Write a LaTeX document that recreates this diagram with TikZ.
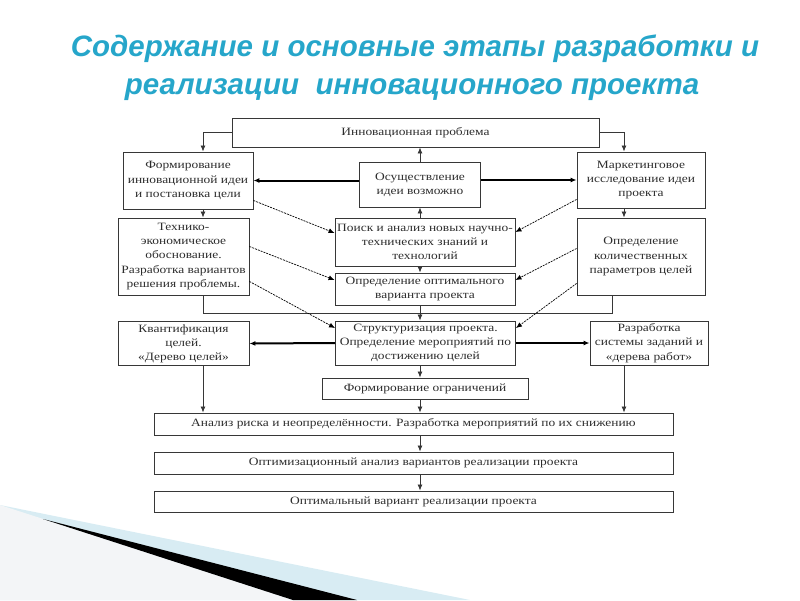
\documentclass[tikz,border=0pt]{standalone}
\usepackage{fontspec}
\setmainfont{Liberation Serif}
\newfontfamily\boxfont[FakeStretch=1.2]{Liberation Serif}
\newfontfamily\titlefont{Liberation Sans}
\usetikzlibrary{arrows.meta,calc,positioning}
\definecolor{TitleBlue}{RGB}{38,166,202}
\definecolor{SwooshBlue}{RGB}{216,236,243}
\definecolor{SwooshGrey}{RGB}{243,245,247}
\definecolor{BoxLine}{RGB}{55,55,55}
\definecolor{BoxText}{RGB}{45,45,45}

\begin{document}
\begin{tikzpicture}[x=1pt,y=-1pt,>={Latex[length=6pt,width=5pt]}]
        \tikzset{stage/.style={draw=BoxLine,line width=0.9pt,inner sep=1pt,align=center,text=BoxText,font=\boxfont\fontsize{11.2}{14.2}\selectfont},
          link/.style={->,draw=BoxLine,line width=0.8pt},
          thick link/.style={->,draw=black,line width=2pt},
          hint/.style={->,draw=black,line width=0.7pt,dash pattern=on 2pt off 1pt}}
        \useasboundingbox (0,0) rectangle (800,600);
        % corner swoosh
        \fill[SwooshBlue] (0,505) -- (470,600) -- (0,600) -- cycle;
        \fill[SwooshGrey] (0,505) -- (293,600) -- (0,600) -- cycle;
        \fill[black] (43,519) -- (357,600) -- (293,600) -- cycle;
        % title
        \node[text=TitleBlue,font=\titlefont\bfseries\itshape\fontsize{29.5}{34}\selectfont] (title1) at (415,49) {Содержание и основные этапы разработки и};
        \node[text=TitleBlue,font=\titlefont\bfseries\itshape\fontsize{29.5}{34}\selectfont] (title2) at (412,90) {реализации\ \ инновационного проекта};
        % boxes
        \node[stage,minimum width=367pt,minimum height=29pt] (prob) at (415.5,132.5) {Инновационная проблема};
        \node[stage,minimum width=130pt,minimum height=57pt] (form) at (188,180.5) {Формирование\\инновационной идеи\\и постановка цели};
        \node[stage,minimum width=121pt,minimum height=45pt] (osush) at (420,184.5) {Осуществление\\идеи возможно};
        \node[stage,minimum width=128pt,minimum height=56pt] (mark) at (641,180) {Маркетинговое\\исследование идеи\\проекта};
        \node[stage,minimum width=131pt,minimum height=77pt] (tech) at (183.5,256.5) {Технико-\\экономическое\\обоснование.\\Разработка вариантов\\решения проблемы.};
        \node[stage,minimum width=180pt,minimum height=48pt] (poisk) at (425,242) {Поиск и анализ новых научно-\\технических знаний и\\технологий};
        \node[stage,minimum width=128pt,minimum height=77pt] (oprkol) at (641,256.5) {Определение\\количественных\\параметров целей};
        \node[stage,minimum width=180pt,minimum height=32pt] (opropt) at (425,289) {Определение оптимального\\варианта проекта};
        \node[stage,minimum width=131pt,minimum height=44pt] (kvant) at (183.5,343.5) {Квантификация\\целей.\\«Дерево целей»};
        \node[stage,minimum width=180pt,minimum height=44pt] (struct) at (425.5,343) {Структуризация проекта.\\Определение мероприятий по\\достижению целей};
        \node[stage,minimum width=118pt,minimum height=44pt] (razr) at (649,343) {Разработка\\системы заданий и\\«дерева работ»};
        \node[stage,minimum width=206pt,minimum height=21pt] (ogr) at (425,388.5) {Формирование ограничений};
        \node[stage,minimum width=519pt,minimum height=22pt] (risk) at (413.5,424) {Анализ риска и неопределённости. Разработка мероприятий по их снижению};
        \node[stage,minimum width=519pt,minimum height=22pt] (opt) at (413.5,463) {Оптимизационный анализ вариантов реализации проекта};
        \node[stage,minimum width=519pt,minimum height=21pt] (final) at (413.5,501.5) {Оптимальный вариант реализации проекта};
        % side columns and joining line
        \coordinate (lcol) at (203,0);
        \coordinate (rcol) at (624,0);
        \coordinate (jleft) at (203,313);
        \coordinate (jright) at (612,313);
        % connectors
        \draw[link] (prob.west) -| (form.north -| lcol);
        \draw[link] (prob.east) -| (mark.north -| rcol);
        \draw[link] (osush.north) -- (prob.south -| osush.north);
        \draw[thick link] (osush.west |- form.east) -- (form.east);
        \draw[thick link] (osush.east |- mark.west) -- (mark.west);
        \draw[link] (form.south -| lcol) -- (tech.north -| lcol);
        \draw[link] (mark.south -| rcol) -- (oprkol.north -| rcol);
        \draw[link] (poisk.north -| osush.south) -- (osush.south);
        \draw[link] (poisk.south -| osush.south) -- (opropt.north -| osush.south);
        \draw[draw=BoxLine,line width=0.8pt] (tech.south -| jleft) -- (jleft) -- (jright) -- (oprkol.south -| jright);
        \draw[link] (opropt.south -| osush.south) -- (struct.north -| osush.south);
        \draw[thick link] (struct.west) -- (kvant.east);
        \draw[thick link] (struct.east) -- (razr.west);
        \draw[link] (struct.south -| osush.south) -- (ogr.north -| osush.south);
        \draw[link] (kvant.south -| lcol) -- (risk.north -| lcol);
        \draw[link] (razr.south -| rcol) -- (risk.north -| rcol);
        \draw[link] (ogr.south -| osush.south) -- (risk.north -| osush.south);
        \draw[link] (risk.south -| osush.south) -- (opt.north -| osush.south);
        \draw[link] (opt.south -| osush.south) -- (final.north -| osush.south);
        % dashed hints
        \draw[hint] ([yshift=9pt]form.south east) -- ([yshift=9pt]poisk.west);
        \draw[hint] ([yshift=9pt]mark.south west) -- ([yshift=10pt]poisk.east);
        \draw[hint] ([yshift=10pt]tech.east) -- ([yshift=9pt]opropt.west);
        \draw[hint] ([yshift=8pt]oprkol.west) -- ([yshift=9pt]opropt.east);
        \draw[hint] ([yshift=14pt]tech.south east) -- ([yshift=15pt]struct.west);
        \draw[hint] ([yshift=12pt]oprkol.south west) -- ([yshift=15pt]struct.east);
      \end{tikzpicture}
\end{document}
